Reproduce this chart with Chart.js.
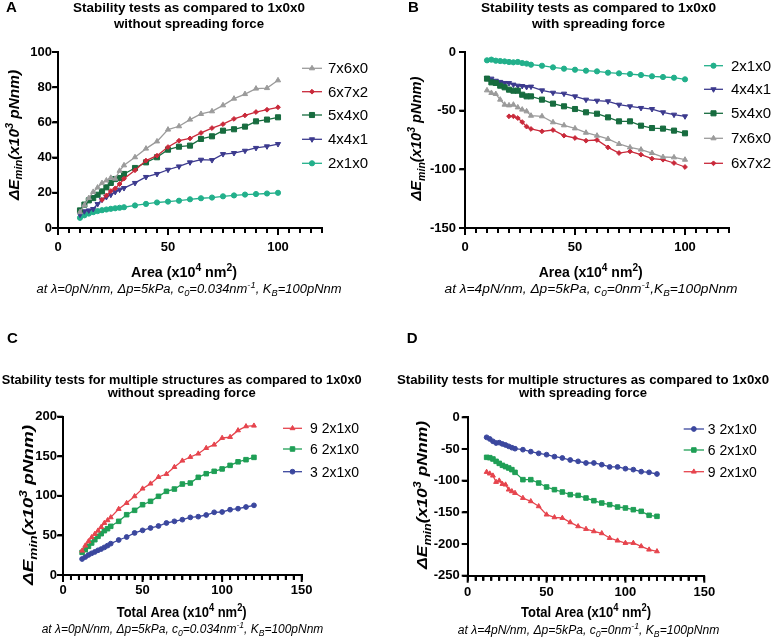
<!DOCTYPE html>
<html><head><meta charset="utf-8">
<script src="https://cdn.jsdelivr.net/npm/chart.js@4/dist/chart.umd.min.js"></script>
<style>
html,body{margin:0;padding:0;background:#fff;}
#wrap{position:relative;width:772px;height:638px;overflow:hidden;background:#fff;}
canvas{position:absolute;display:block;}
</style></head><body>
<div id="wrap">
<canvas id="cA" width="386" height="319" style="left:0px;top:0px"></canvas>
<canvas id="cB" width="386" height="319" style="left:386px;top:0px"></canvas>
<canvas id="cC" width="386" height="319" style="left:0px;top:319px"></canvas>
<canvas id="cD" width="386" height="319" style="left:386px;top:319px"></canvas>
</div>
<script>
// ---------------- DATA ----------------
const areaAB = [10,12,14,16,18,20,22,24,26,28,30,35,40,45,50,55,60,65,70,75,80,85,90,95,100];
const areaCD = [12,14,16,18,20,22,24,26,28,30,35,40,45,50,55,60,65,70,75,80,85,90,95,100,105,110,115,120];

// Panel A (without spreading force)
const A_7x6x0 = [9,13,17,20.5,23,25.5,27,28.5,28,32.5,35.6,40.2,45.1,49.2,55.9,57.8,61.6,64.8,66.3,69.7,73.5,76.1,79.2,79.5,83.9];
const A_6x7x2 = [null,null,null,null,null,16,18.5,21,22.5,25,28,32.8,38.3,41.1,46,49.6,50.9,54,56.8,59,62,64,65.9,67.2,68.6];
const A_5x4x0 = [10.0,13.3,15.7,17.0,18.9,20.8,23.1,25.6,27.8,28.4,30.7,34.1,37.3,40.2,44.5,46.2,46.8,50.6,52.1,55.3,56.1,57.6,60.6,61.6,62.9];
const A_4x4x1 = [7.6,9.5,10.0,10.8,13.6,16.1,17.6,18.9,20.5,21.8,22.7,25.6,29.0,30.7,33.1,35.0,37.3,38.8,38.6,42.0,42.6,43.9,45.5,46.4,47.7];
const A_2x1x0 = [5.8,7.2,8.2,9.0,9.6,10.1,10.5,10.9,11.2,11.5,11.8,12.8,13.7,14.5,15.0,15.5,16.3,16.9,17.3,18.0,18.5,19.0,19.3,19.6,20.0];

// Panel B (with spreading force)
const B_2x1x0 = [-7.1,-6.5,-7.4,-7.7,-8.0,-8.5,-8.8,-8.5,-9.4,-9.9,-10.8,-11.7,-13.1,-14.2,-15.1,-15.9,-16.5,-17.6,-18.2,-18.8,-19.6,-20.7,-21.3,-21.9,-23.3];
const B_4x4x1 = [-22.2,-22.7,-24.5,-25.5,-26.4,-26.5,-27.8,-28.7,-29.0,-29.8,-29.5,-32.7,-34.7,-35.5,-37.8,-40.6,-41.5,-42.0,-44.9,-46.3,-47.7,-48.6,-51.4,-53.4,-54.8];
const B_5x4x0 = [-22.7,-25.9,-26.4,-28.7,-30.1,-32.1,-33.0,-33.0,-36.4,-37.8,-37.8,-40.6,-44.0,-46.3,-48.6,-51.4,-52.6,-55.7,-59.1,-59.1,-62.8,-64.8,-65.3,-67.0,-69.3];
const B_7x6x0 = [-32.7,-34.9,-35.8,-40.6,-44.9,-45.5,-44.9,-47.2,-49.1,-50.6,-54.3,-54.8,-59.9,-62.5,-65.1,-68.8,-71.3,-74.1,-78.4,-81.3,-83.2,-86.1,-89.5,-89.8,-91.8];
const B_6x7x2 = [null,null,null,null,null,-54.8,-54.8,-56.3,-59.7,-63.6,-65.6,-67.6,-66.5,-71.3,-73.3,-75.6,-75.0,-81.3,-86.1,-84.7,-87.5,-90.9,-91.8,-94.6,-98.0];

// Panel C (multiple structures, without spreading force)
const C_9 = [30.7,37.1,42.5,47.6,51.8,56.0,60.6,65.7,69.1,72.8,83.4,90.9,99.4,109.1,115.4,123.8,127.6,136.4,144.4,149.1,153.3,160.4,164.6,173.1,174.3,182.7,187.8,188.6];
const C_6 = [28.6,32.0,36.2,40.4,44.6,48.8,52.2,56.0,58.5,61.5,67.8,76.2,81.7,88.8,93.1,99.4,105.7,108.6,114.9,116.2,123.4,128.0,131.0,134.0,138.5,143.0,145.7,148.6];
const C_3 = [20.2,22.7,25.3,27.4,29.1,31.2,32.8,34.9,37.1,39.6,44.2,48.0,53.1,56.4,59.4,61.9,65.7,67.8,69.9,72.8,73.7,75.8,79.2,79.6,82.5,83.8,85.9,88.0];

// Panel D (multiple structures, with spreading force)
const D_3 = [-31.6,-34.2,-37.9,-40.6,-40.0,-42.1,-43.7,-45.8,-47.9,-49.5,-51.1,-54.2,-56.9,-59.0,-62.1,-64.2,-67.4,-69.5,-72.1,-72.1,-74.8,-78.4,-78.4,-81.1,-82.6,-85.8,-86.9,-89.5];
const D_6 = [-63.2,-63.7,-65.8,-69.5,-72.7,-75.8,-77.9,-80.0,-82.6,-86.9,-98.4,-98.4,-103.7,-110.0,-114.2,-117.9,-122.1,-123.2,-127.4,-131.6,-135.3,-137.9,-141.6,-143.1,-145.8,-148.4,-154.7,-156.3];
const D_9 = [-86.3,-88.9,-92.1,-102.1,-100.0,-105.3,-106.3,-114.2,-116.8,-119.5,-127.4,-132.6,-140.5,-153.6,-157.9,-158.9,-165.8,-172.1,-176.3,-180.0,-183.1,-190.5,-194.7,-198.4,-198.4,-203.6,-208.9,-211.6];

const xTickLabelsAB = [0,50,100];
const xTickLabelsCD = [0,50,100,150];

// ---------------- STYLE ----------------
const FONT = "'Liberation Sans', Arial, Helvetica, sans-serif";
const COL = {
  teal:'#22b08b', navy:'#3c3a8e', dgreen:'#176c3f', gray:'#9b9b9b', red:'#c9293a',
  cRed:'#e6444d', cGreen:'#1f9f56', cNavy:'#3b479e'
};
const STY = {
  '2x1x0':{color:COL.teal, style:'circle', r:2.6, rot:0},
  '4x4x1':{color:COL.navy, style:'triangle', r:3, rot:180},
  '5x4x0':{color:COL.dgreen, style:'rect', r:3.6, rot:0},
  '7x6x0':{color:COL.gray, style:'triangle', r:3, rot:0},
  '6x7x2':{color:COL.red, style:'rectRot', r:2.4, rot:0},
  '9 2x1x0':{color:COL.cRed, style:'triangle', r:2.8, rot:0},
  '6 2x1x0':{color:COL.cGreen, style:'rect', r:3.2, rot:0},
  '3 2x1x0':{color:COL.cNavy, style:'circle', r:2.4, rot:0}
};

function pts(xs, ys){ const o=[]; xs.forEach((x,i)=>{ if(ys[i]!==null && ys[i]!==undefined) o.push({x:x,y:ys[i]}); }); return o; }
function fontStr(size, weight, italic){ return (italic?'italic ':'') + weight + ' ' + size.toFixed(2) + 'px ' + FONT; }
const SUBK = 0.72;
function measureRich(ctx, segs, size, weight, italic){
  let w=0; for(const [t,m] of segs){ ctx.font = fontStr(m?size*SUBK:size, weight, italic); w += ctx.measureText(t).width; } return w;
}
function drawRich(ctx, segs, x, y, size, weight, italic, target){
  const natural = measureRich(ctx, segs, size, weight, italic);
  const sx = target ? target/natural : 1;
  ctx.save();
  ctx.translate(x, y); ctx.scale(sx, 1);
  let cx = -natural/2;
  ctx.textAlign='left'; ctx.textBaseline='alphabetic';
  for (const [t,m] of segs){
    const s = m?size*SUBK:size;
    ctx.font = fontStr(s, weight, italic);
    const dy = m==='sup' ? -size*0.42 : (m==='sub' ? size*0.25 : 0);
    ctx.fillText(t, cx, dy);
    cx += ctx.measureText(t).width;
  }
  ctx.restore();
}
function drawMarker(ctx, st, x, y){
  ctx.fillStyle = st.color; ctx.strokeStyle = st.color; ctx.lineWidth = 1;
  if (Chart.helpers && Chart.helpers.drawPoint){
    Chart.helpers.drawPoint(ctx, {pointStyle:st.style, radius:st.r, rotation:st.rot, borderWidth:1}, x, y);
  } else {
    ctx.beginPath(); ctx.arc(x,y,st.r,0,Math.PI*2); ctx.fill();
  }
}

const YTITLE = [['ΔE',''],['min','sub'],['(x10',''],['3','sup'],[' pNnm)','']];
const XTITLE_AB = [['Area (x10',''],['4','sup'],[' nm',''],['2','sup'],[')','']];
const XTITLE_CD = [['Total Area (x10',''],['4','sup'],[' nm',''],['2','sup'],[')','']];
const SUB_0 = [['at λ=0pN/nm, Δp=5kPa, c',''],['0','sub'],['=0.034nm',''],['-1','sup'],[', K',''],['B','sub'],['=100pNnm','']];
const SUB_4B = [['at λ=4pN/nm, Δp=5kPa, c',''],['0','sub'],['=0nm',''],['-1','sup'],[',K',''],['B','sub'],['=100pNnm','']];
const SUB_4D = [['at λ=4pN/nm, Δp=5kPa, c',''],['0','sub'],['=0nm',''],['-1','sup'],[', K',''],['B','sub'],['=100pNnm','']];

function makeDecor(P){
  return {
    id:'decor' + P.letter,
    afterDraw(chart){
      const ctx = chart.ctx, xs = chart.scales.x, ys = chart.scales.y, ca = chart.chartArea;
      ctx.save();
      ctx.globalCompositeOperation = 'source-over';
      ctx.globalAlpha = 1;
      ctx.fillStyle = '#000';
      xs.ticks.forEach(t=>{
        const px = xs.getPixelForValue(t.value);
        const len = P.xMajor.includes(t.value) ? 7 : 5;
        ctx.fillRect(px-1, ca.bottom, 2, len);
      });
      ys.ticks.forEach(t=>{
        const py = ys.getPixelForValue(t.value);
        ctx.fillRect(ca.left-6, py-1, 6, 2);
      });
      ctx.font = fontStr(15,'bold',false); ctx.textAlign='left'; ctx.textBaseline='alphabetic';
      ctx.fillText(P.letter, P.letterX, P.letterY);
      P.title.forEach((t,i)=>{ drawRich(ctx, [[t,'']], P.titleX, P.titleY[i], P.titleSize, 'bold', false, P.titleW[i]); });
      drawRich(ctx, P.xTitle, P.xTitleX, P.xTitleY, 14, 'bold', false, P.xTitleW);
      drawRich(ctx, P.sub, P.subX, P.subY, 12, 'normal', true, P.subW);
      ctx.save(); ctx.translate(P.yTitleX, P.yTitleY); ctx.rotate(-Math.PI/2);
      drawRich(ctx, YTITLE, 0, 0, 14, 'bold', true, P.yTitleW); ctx.restore();
      P.legend.forEach((name,i)=>{
        const st = STY[name]; const y = P.legRows[i];
        ctx.strokeStyle = st.color; ctx.lineWidth = 1.3;
        ctx.beginPath(); ctx.moveTo(P.legX0, y); ctx.lineTo(P.legX1, y); ctx.stroke();
        drawMarker(ctx, st, (P.legX0+P.legX1)/2, y);
        ctx.fillStyle='#000'; ctx.font = fontStr(P.legFont,'normal',false);
        ctx.textAlign='left'; ctx.textBaseline='middle';
        ctx.fillText(name, P.legTX, y+1);
      });
      ctx.restore();
    }
  };
}

function ds(name, xs, ys){
  const st = STY[name];
  return { label:name, data:pts(xs,ys), borderColor:st.color, backgroundColor:st.color, borderWidth:1.3,
    pointStyle:st.style, pointRadius:st.r, pointRotation:st.rot, pointBorderWidth:1, pointBackgroundColor:st.color,
    pointBorderColor:st.color, tension:0, fill:false };
}

function gridOpt(){ return {display:true, drawOnChartArea:false, drawTicks:true, tickLength:5, tickWidth:2, tickColor:'#000000', color:'#000000', lineWidth:2}; }

function makeChart(id, W, H, area, xMax, yMin, yMax, yStep, xLabels, datasets, P){
  const tickFont = {family:FONT, size:13, weight:'bold'};
  P.xMajor = xLabels;
  return new Chart(document.getElementById(id), {
    type:'line',
    data:{datasets:datasets},
    options:{
      responsive:false, animation:false, devicePixelRatio:1,
      layout:{padding:{left:0, top:area.t, right:W-area.r, bottom:0}},
      plugins:{legend:{display:false}, title:{display:false}, tooltip:{enabled:false}},
      scales:{
        x:{type:'linear', min:0, max:xMax,
           afterFit(s){ s.height = H - area.b; },
           grid:gridOpt(), border:{display:true, color:'#000', width:2},
           ticks:{stepSize:5, autoSkip:false, maxRotation:0, minRotation:0, color:'#000', font:tickFont, padding:P.xPad,
                  callback:(v)=> xLabels.includes(v) ? String(v) : ''}},
        y:{type:'linear', min:yMin, max:yMax,
           afterFit(s){ s.width = area.l; },
           grid:gridOpt(), border:{display:true, color:'#000', width:2},
           ticks:{stepSize:yStep, color:'#000', font:tickFont, padding:P.yPad}}
      }
    },
    plugins:[makeDecor(P)]
  });
}

// Panel A
makeChart('cA', 386, 319, {l:58, t:52, r:322, b:228}, 120, 0, 100, 20, xTickLabelsAB, [
  ds('7x6x0', areaAB, A_7x6x0), ds('6x7x2', areaAB, A_6x7x2), ds('5x4x0', areaAB, A_5x4x0),
  ds('4x4x1', areaAB, A_4x4x1), ds('2x1x0', areaAB, A_2x1x0)
], {
  xPad:7, yPad:1,
  letter:'A', letterX:6, letterY:12,
  title:['Stability tests as compared to 1x0x0','without spreading force'], titleSize:13.5, titleX:189, titleY:[12,27.5], titleW:[232,150],
  xTitle:XTITLE_AB, xTitleX:184, xTitleY:277, xTitleW:106,
  sub:SUB_0, subX:189, subY:293, subW:305,
  yTitleX:18.5, yTitleY:135, yTitleW:130,
  legend:['7x6x0','6x7x2','5x4x0','4x4x1','2x1x0'], legRows:[68.3,91.7,115,139.3,163.3],
  legX0:302, legX1:322, legTX:328, legFont:15
});

// Panel B
makeChart('cB', 386, 319, {l:79, t:52, r:343, b:228}, 120, -150, 0, 50, xTickLabelsAB, [
  ds('7x6x0', areaAB, B_7x6x0), ds('6x7x2', areaAB, B_6x7x2), ds('5x4x0', areaAB, B_5x4x0),
  ds('4x4x1', areaAB, B_4x4x1), ds('2x1x0', areaAB, B_2x1x0)
], {
  xPad:7, yPad:4,
  letter:'B', letterX:22, letterY:12,
  title:['Stability tests as compared to 1x0x0','with spreading force'], titleSize:13.5, titleX:212.5, titleY:[12,27.5], titleW:[235,133],
  xTitle:XTITLE_AB, xTitleX:204.7, xTitleY:277, xTitleW:104,
  sub:SUB_4B, subX:205, subY:293, subW:293,
  yTitleX:35, yTitleY:138.5, yTitleW:124,
  legend:['2x1x0','4x4x1','5x4x0','7x6x0','6x7x2'], legRows:[65.7,89.3,113.3,138.3,163.3],
  legX0:318, legX1:337, legTX:345, legFont:15
});

// Panel C
makeChart('cC', 386, 319, {l:63, t:97.7, r:301.7, b:256}, 150, 0, 200, 50, xTickLabelsCD, [
  ds('9 2x1x0', areaCD, C_9), ds('6 2x1x0', areaCD, C_6), ds('3 2x1x0', areaCD, C_3)
], {
  xPad:3, yPad:1,
  letter:'C', letterX:7, letterY:24,
  title:['Stability tests for multiple structures as compared to 1x0x0','without spreading force'], titleSize:13, titleX:181.7, titleY:[64.8,78.2], titleW:[360,148],
  xTitle:XTITLE_CD, xTitleX:181.7, xTitleY:298.3, xTitleW:130,
  sub:SUB_0, subX:182.5, subY:314, subW:281.6,
  yTitleX:33, yTitleY:186, yTitleW:160,
  legend:['9 2x1x0','6 2x1x0','3 2x1x0'], legRows:[109.3,130,152.7],
  legX0:283, legX1:302, legTX:310, legFont:14
});

// Panel D
makeChart('cD', 386, 319, {l:81.7, t:98.3, r:318.3, b:256.7}, 150, -250, 0, 50, xTickLabelsCD, [
  ds('3 2x1x0', areaCD, D_3), ds('6 2x1x0', areaCD, D_6), ds('9 2x1x0', areaCD, D_9)
], {
  xPad:4, yPad:3,
  letter:'D', letterX:20.7, letterY:24,
  title:['Stability tests for multiple structures as compared to 1x0x0','with spreading force'], titleSize:13, titleX:197, titleY:[64.8,78.2], titleW:[372,128],
  xTitle:XTITLE_CD, xTitleX:200, xTitleY:298.3, xTitleW:130,
  sub:SUB_4D, subX:202.5, subY:315, subW:261.6,
  yTitleX:41, yTitleY:176, yTitleW:148,
  legend:['3 2x1x0','6 2x1x0','9 2x1x0'], legRows:[110,131,152.7],
  legX0:297.7, legX1:318, legTX:321.7, legFont:14
});
</script>
</body></html>
